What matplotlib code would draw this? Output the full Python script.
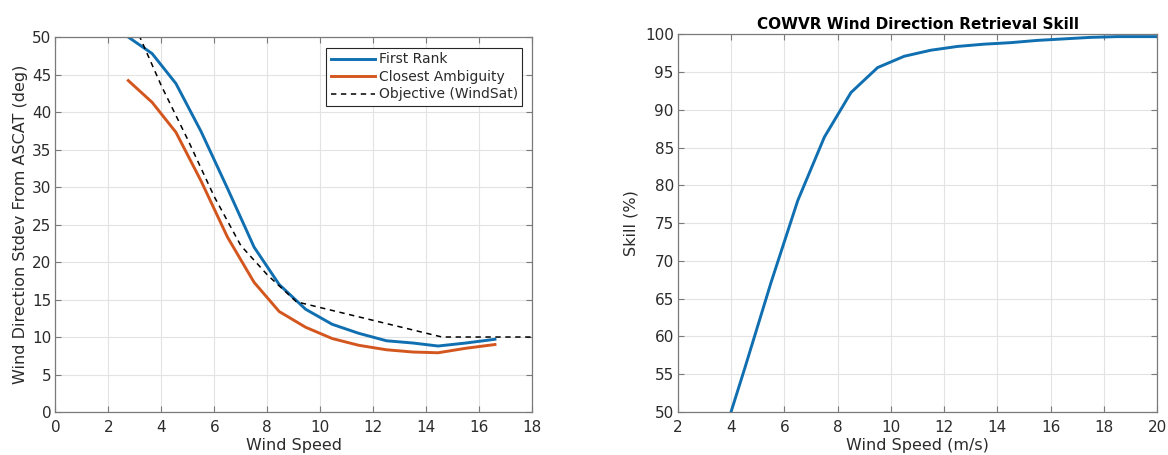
"""Wind direction retrieval: stdev vs ASCAT and retrieval skill, side by side."""

import matplotlib

matplotlib.use("Agg")
import matplotlib.pyplot as plt

# left panel: stdev of wind direction from ASCAT (deg)
speed_bins = [2.75, 3.65, 4.55, 5.5, 6.5, 7.5, 8.45, 9.45, 10.45, 11.45, 12.5, 13.5, 14.45, 15.5, 16.6]
first_rank = [50.0, 47.8, 43.8, 37.4, 29.8, 22.0, 17.0, 13.7, 11.7, 10.5, 9.5, 9.2, 8.8, 9.2, 9.7]
closest_amb = [44.2, 41.3, 37.3, 30.8, 23.3, 17.3, 13.4, 11.3, 9.8, 8.9, 8.3, 8.0, 7.9, 8.5, 9.0]

objective_speed = [3.0, 4.0, 5.0, 6.0, 7.0, 8.0, 9.1, 14.6, 18.0]
objective_stdev = [51.5, 43.5, 36.3, 28.7, 22.2, 18.3, 14.7, 10.0, 10.0]

# right panel: retrieval skill (%)
skill_speed = [3.5, 4.5, 5.5, 6.5, 7.5, 8.5, 9.5, 10.5, 11.5, 12.5, 13.5, 14.5,
               15.5, 16.5, 17.5, 18.5, 19.5, 20.5]
skill = [44.5, 55.7, 67.2, 78.0, 86.4, 92.3, 95.6, 97.1, 97.9, 98.4, 98.7, 98.9,
         99.2, 99.4, 99.6, 99.7, 99.7, 99.7]

BLUE = "#0f6fb0"
ORANGE = "#d4561f"
TXT = "#2b2b2b"

plt.rcParams["font.family"] = ["DejaVu Sans"]
plt.rcParams["font.size"] = 11


def matlab_style(ax):
    ax.grid(True, color="#e3e3e3", linewidth=0.8)
    ax.set_axisbelow(True)
    for s in ax.spines.values():
        s.set_color("#7a7a7a")
        s.set_linewidth(0.9)
    ax.tick_params(direction="in", length=4, width=0.8, color="#7a7a7a",
                   labelcolor=TXT, labelsize=11, top=True, right=True, pad=3)
    ax.tick_params(axis="x", pad=6)


fig = plt.figure(figsize=(11.68, 4.55), dpi=100)
ax1 = fig.add_axes([0.0475, 0.0945, 0.408, 0.824])
ax2 = fig.add_axes([0.5805, 0.0945, 0.4101, 0.830])

ax1.plot(speed_bins, first_rank, color=BLUE, lw=2.1, label="First Rank")
ax1.plot(speed_bins, closest_amb, color=ORANGE, lw=2.1, label="Closest Ambiguity")
ax1.plot(objective_speed, objective_stdev, color="black", lw=1.1,
         ls=(0, (3.5, 3)), label="Objective (WindSat)")
ax1.set_xlim(0, 18)
ax1.set_ylim(0, 50)
ax1.set_xticks(range(0, 19, 2))
ax1.set_yticks(range(0, 51, 5))
ax1.set_xlabel("Wind Speed", color=TXT, fontsize=11.5, labelpad=2)
ax1.set_ylabel("Wind Direction Stdev From ASCAT (deg)", color=TXT, fontsize=11.5, labelpad=3)
matlab_style(ax1)
leg = ax1.legend(loc="upper right", bbox_to_anchor=(0.98, 0.97), fontsize=10,
                 fancybox=False, framealpha=1, edgecolor="#262626",
                 handlelength=3.2, handletextpad=0.3, borderpad=0.3,
                 labelspacing=0.25, borderaxespad=0)
leg.get_frame().set_linewidth(0.8)
for t in leg.get_texts():
    t.set_color(TXT)

ax2.plot(skill_speed, skill, color=BLUE, lw=2.1)
ax2.set_xlim(2, 20)
ax2.set_ylim(50, 100)
ax2.set_xticks(range(2, 21, 2))
ax2.set_yticks(range(50, 101, 5))
ax2.set_xlabel("Wind Speed (m/s)", color=TXT, fontsize=11.5, labelpad=2)
ax2.set_ylabel("Skill (%)", color=TXT, fontsize=11.5, labelpad=5)
ax2.set_title("COWVR Wind Direction Retrieval Skill", fontsize=11, fontweight="bold",
              color="black", pad=4)
matlab_style(ax2)

fig.savefig("out.png", dpi=100)
